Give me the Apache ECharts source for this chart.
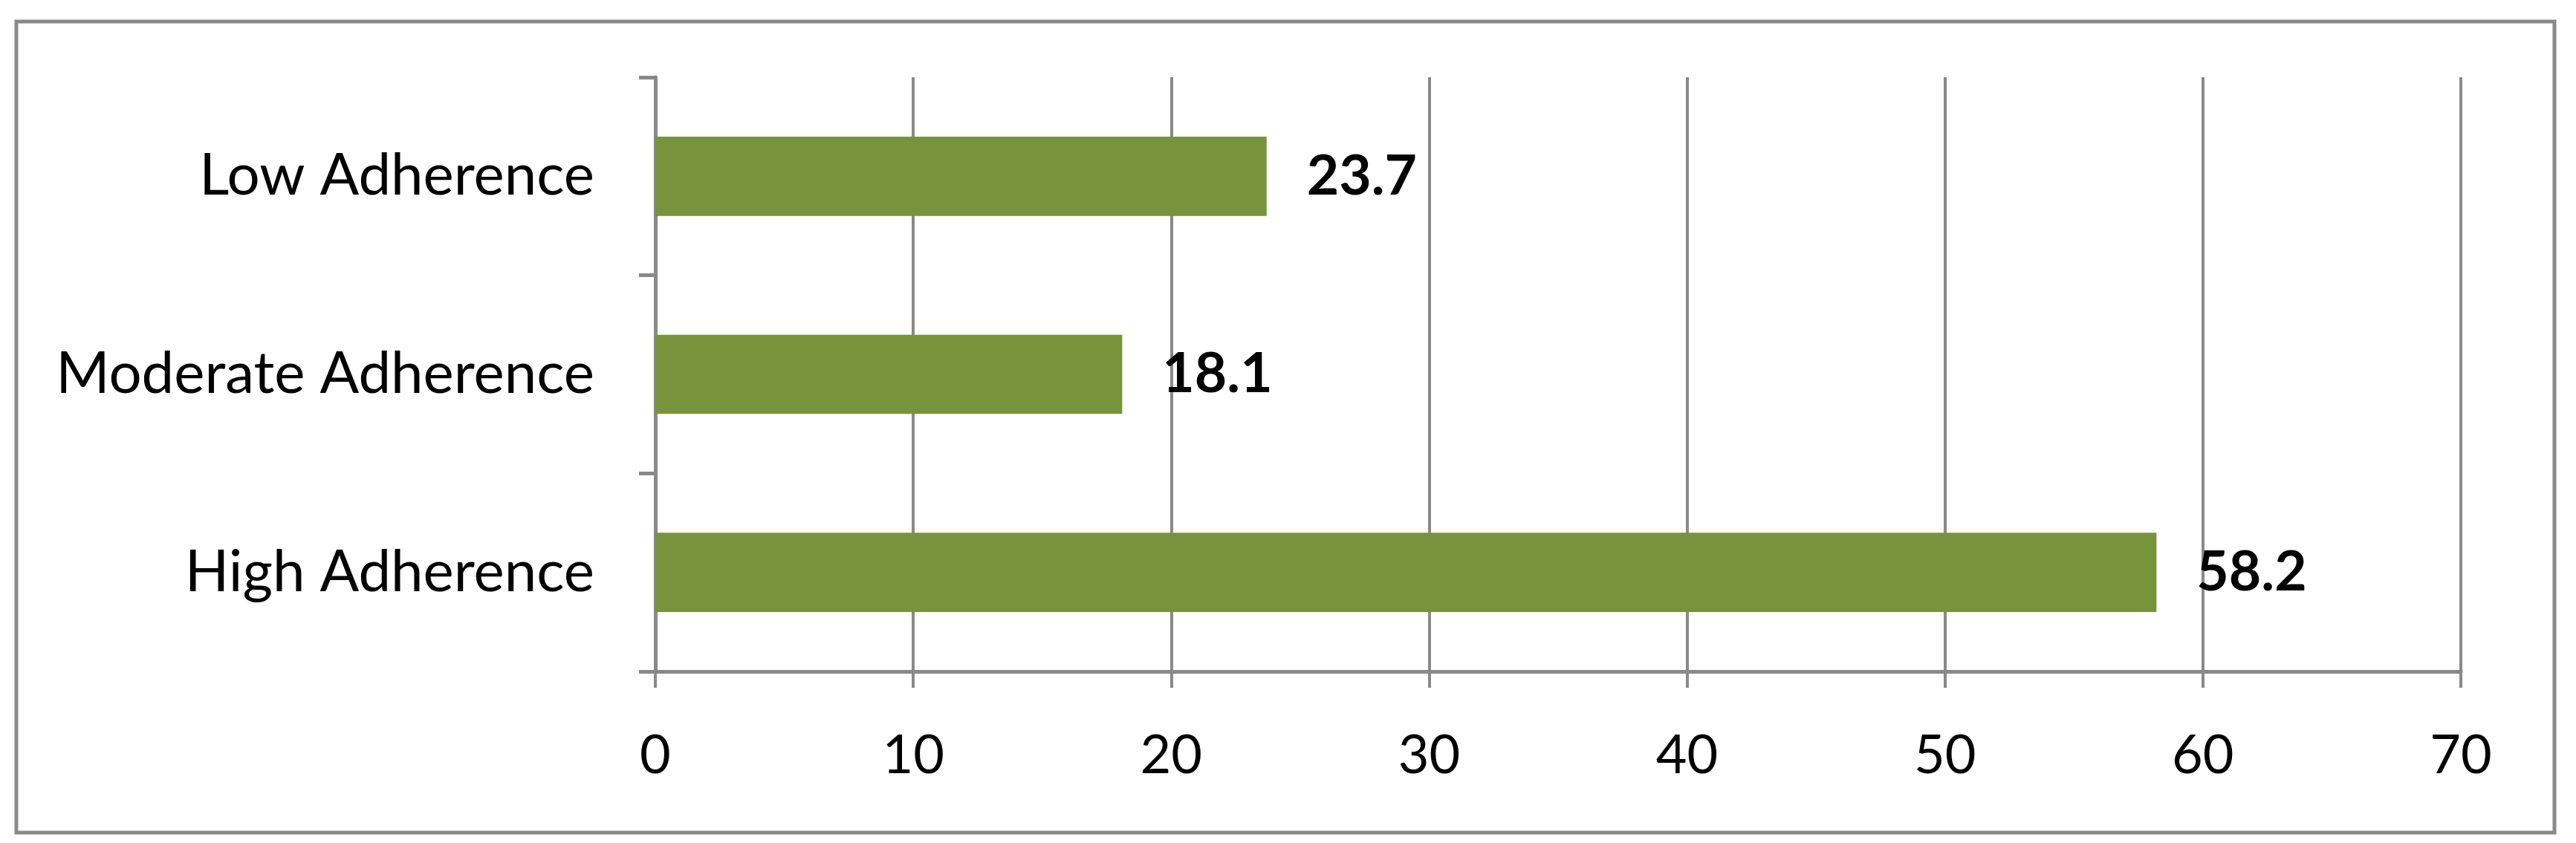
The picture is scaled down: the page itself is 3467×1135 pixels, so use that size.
<!DOCTYPE html>
<html>
<head>
<meta charset="utf-8">
<script src="https://cdn.jsdelivr.net/npm/echarts@6/dist/echarts.min.js"></script>
<style>
  html, body { margin: 0; padding: 0; background: #fff; }
  #chart { width: 3467px; height: 1135px; }
</style>
</head>
<body>
<div id="chart"></div>
<script>
var categories = ['High Adherence', 'Moderate Adherence', 'Low Adherence'];
var values = [58.2, 18.1, 23.7];
var xTicks = [0, 70, 10]; // min, max, interval

var myChart = echarts.init(document.getElementById('chart'));

var gray = '#898989';
var font = 'Lato, "Open Sans", sans-serif';

option = {
    backgroundColor: '#fff',
    animation: false,
    graphic: [{
        type: 'rect',
        shape: { x: 22, y: 29, width: 3416, height: 1092 },
        style: { fill: 'none', stroke: gray, lineWidth: 5 },
        silent: true
    }],
    grid: {
        left: 882,
        right: 155,
        top: 104,
        bottom: 231
    },
    xAxis: {
        type: 'value',
        min: xTicks[0],
        max: xTicks[1],
        interval: xTicks[2],
        axisLine: { show: true, lineStyle: { color: gray, width: 5 } },
        axisTick: { show: true, length: 22, lineStyle: { color: gray, width: 4 } },
        splitLine: { show: true, lineStyle: { color: gray, width: 4 } },
        axisLabel: {
            color: '#000',
            fontFamily: font,
            fontSize: 72,
            margin: 78
        }
    },
    yAxis: {
        type: 'category',
        data: categories,
        axisLine: { show: true, lineStyle: { color: gray, width: 5 } },
        axisTick: { show: true, length: 22, lineStyle: { color: gray, width: 5 } },
        axisLabel: {
            color: '#000',
            fontFamily: font,
            fontSize: 78,
            margin: 82
        }
    },
    series: [{
        type: 'bar',
        data: values,
        barWidth: '40%',
        itemStyle: { color: '#77933C' },
        label: {
            show: true,
            position: 'right',
            distance: 54,
            color: '#000',
            fontFamily: font,
            fontWeight: 'bold',
            fontSize: 75
        }
    }]
};
myChart.setOption(option);
</script>
</body>
</html>
